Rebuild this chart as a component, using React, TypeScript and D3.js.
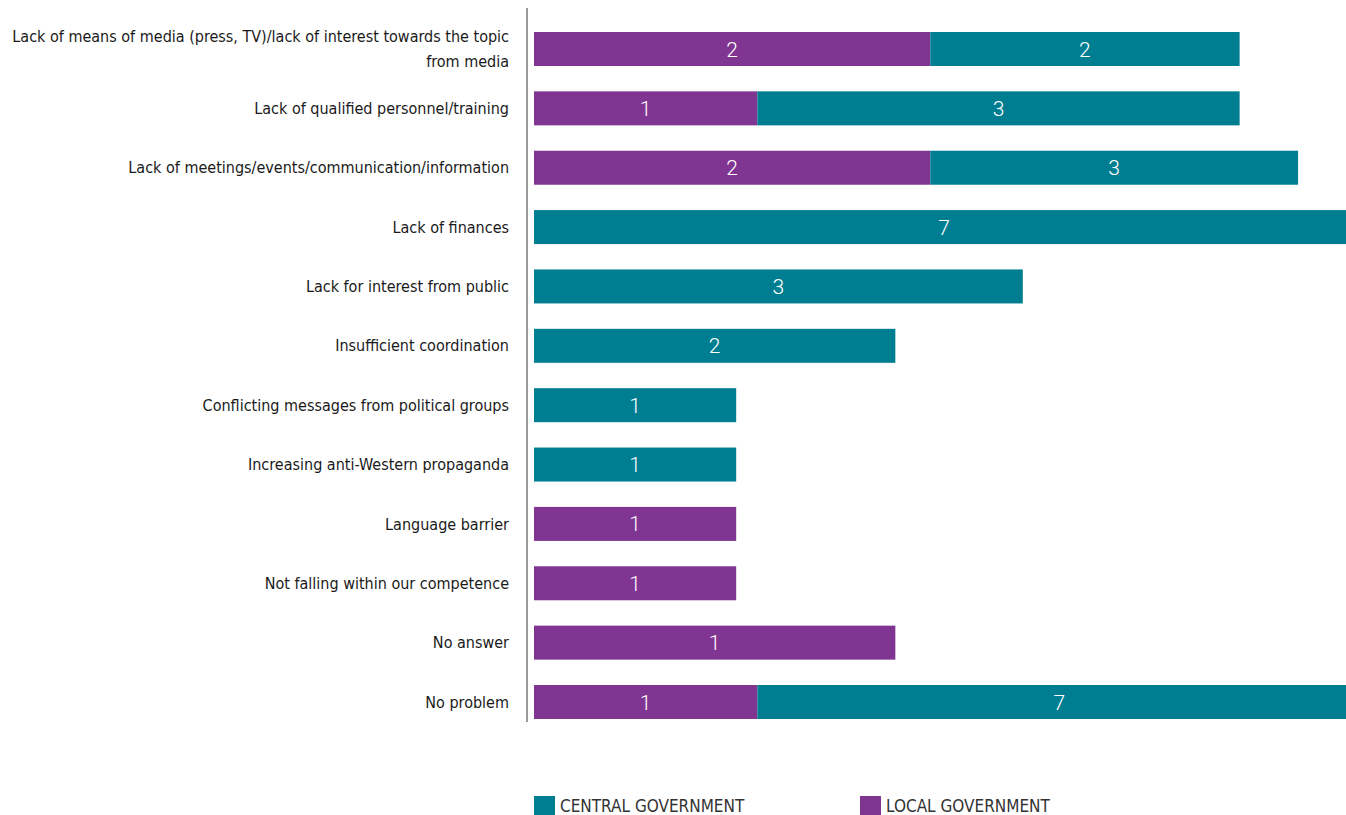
import React, { useEffect } from "react";
import * as d3 from "d3";

const categories = [
  "Lack of means of media (press, TV)/lack of interest towards the topic|from media",
  "Lack of qualified personnel/training",
  "Lack of meetings/events/communication/information",
  "Lack of finances",
  "Lack for interest from public",
  "Insufficient coordination",
  "Conflicting messages from political groups",
  "Increasing anti-Western propaganda",
  "Language barrier",
  "Not falling within our competence",
  "No answer",
  "No problem",
];

// counts shown as labels
const localCount = [2, 1, 2, 0, 0, 0, 0, 0, 1, 1, 1, 1];
const centralCount = [2, 3, 3, 7, 3, 2, 1, 1, 0, 0, 0, 7];
// bar lengths (share, %) as drawn
const localShare = [48.8, 27.5, 48.8, 0, 0, 0, 0, 0, 24.9, 24.9, 44.5, 27.5];
const centralShare = [38.1, 59.4, 45.3, 101, 60.2, 44.5, 24.9, 24.9, 0, 0, 0, 74.4];

const seriesNames = ["CENTRAL GOVERNMENT", "LOCAL GOVERNMENT"];

const TEAL = "#007e91";
const PURPLE = "#813592";
const FONT = "'Liberation Sans Narrow', 'DejaVu Sans Condensed', Roboto, sans-serif";

export default function App() {
  useEffect(() => {
    document.body.style.margin = "0";
  }, []);
  const W = 1346;
  const H = 815;
  const x = d3.scaleLinear().domain([0, 100]).range([534, 1346]);
  const y = d3.scalePoint<number>().domain(d3.range(categories.length)).range([49, 702]);
  const bh = 34;

  return (
    <svg width={W} height={H} style={{ display: "block", fontFamily: FONT }}>
      <line x1={527} x2={527} y1={8} y2={722} stroke="#9a9a9a" strokeWidth={2} />
      {categories.map((c, i) => {
        const cy = y(i)!;
        const lines = c.split("|");
        const l0 = x(0);
        const l1 = x(localShare[i]);
        const c1 = x(localShare[i] + centralShare[i]);
        return (
          <g key={i}>
            {lines.map((t, j) => (
              <text
                key={j}
                x={509}
                y={cy + (j - (lines.length - 1) / 2) * 25}
                dy="0.35em"
                textAnchor="end"
                fontSize={16}
                fill="#1a1a1a"
              >
                {t}
              </text>
            ))}
            {localShare[i] > 0 && (
              <rect x={l0} y={cy - bh / 2} width={l1 - l0} height={bh} fill={PURPLE} />
            )}
            {centralShare[i] > 0 && (
              <rect x={l1} y={cy - bh / 2} width={c1 - l1} height={bh} fill={TEAL} />
            )}
            {localCount[i] > 0 && (
              <text x={(l0 + l1) / 2} y={cy} dy="0.36em" textAnchor="middle" fontSize={21} fontFamily="Roboto, sans-serif" fontWeight={300} fill="#fff">
                {localCount[i]}
              </text>
            )}
            {centralCount[i] > 0 && (
              <text x={(l1 + c1) / 2} y={cy} dy="0.36em" textAnchor="middle" fontSize={21} fontFamily="Roboto, sans-serif" fontWeight={300} fill="#fff">
                {centralCount[i]}
              </text>
            )}
          </g>
        );
      })}
      {seriesNames.map((s, k) => {
        const lx = k === 0 ? 534 : 860;
        return (
          <g key={s}>
            <rect x={lx} y={796} width={21} height={20} fill={k === 0 ? TEAL : PURPLE} />
            <text x={lx + 26} y={812} fontSize={17} fill="#333">
              {s}
            </text>
          </g>
        );
      })}
    </svg>
  );
}
